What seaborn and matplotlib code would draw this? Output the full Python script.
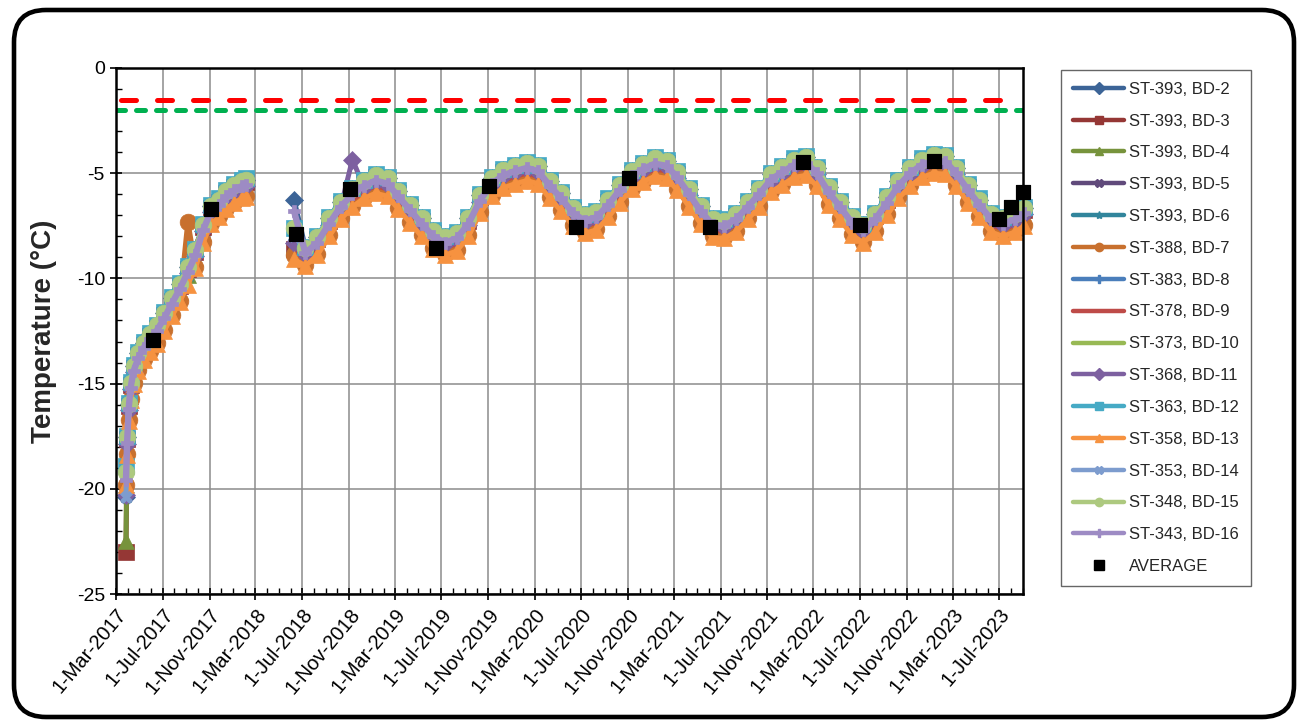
import pandas as pd
import matplotlib
matplotlib.use("Agg")
import matplotlib.pyplot as plt
import matplotlib.dates as mdates
from matplotlib.lines import Line2D
from matplotlib.patches import FancyBboxPatch
from matplotlib.ticker import FuncFormatter, MultipleLocator
import seaborn as sns

# ---- data ----
# first season after installation (band centre, deg C)
dates_2017 = ['2017-03-27', '2017-03-30', '2017-04-03', '2017-04-08', '2017-04-16',
              '2017-04-28', '2017-05-12', '2017-05-28', '2017-06-15', '2017-07-05',
              '2017-07-25', '2017-08-15', '2017-09-05', '2017-09-25', '2017-10-15',
              '2017-11-05', '2017-11-25', '2017-12-15', '2018-01-05', '2018-01-25',
              '2018-02-05']
temp_2017 = [-19.6, -17.8, -16.2, -15.2, -14.4, -13.8, -13.3, -12.9, -12.5, -11.9,
             -11.2, -10.5, -9.7, -8.9, -7.7, -6.8, -6.5, -6.1, -5.8, -5.6, -5.55]

# monthly readings after the restart in June 2018
dates_2018 = list(pd.date_range('2018-06-01', '2023-08-01', freq='MS') + pd.Timedelta(days=9)) \
    + [pd.Timestamp('2023-09-05')]
temp_2018 = [-8.3, -8.8, -8.3, -7.4, -6.6, -6.0, -5.6,
             -5.35, -5.5, -6.1, -6.75, -7.4, -8.0, -8.3, -8.1, -7.4, -6.3, -5.5, -5.1,
             -4.9, -4.75, -4.9, -5.6, -6.2, -6.9, -7.25, -7.1, -6.5, -5.8, -5.15, -4.8,
             -4.55, -4.65, -5.2, -6.0, -6.8, -7.45, -7.5, -7.2, -6.6, -6.0, -5.3, -4.95,
             -4.6, -4.5, -5.0, -5.9, -6.6, -7.35, -7.7, -7.2, -6.4, -5.6, -5.0, -4.6,
             -4.4, -4.45, -5.0, -5.8, -6.5, -7.2, -7.4, -7.2, -6.9]

sensor_labels = ['ST-393, BD-2', 'ST-393, BD-3', 'ST-393, BD-4', 'ST-393, BD-5',
                 'ST-393, BD-6', 'ST-388, BD-7', 'ST-383, BD-8', 'ST-378, BD-9',
                 'ST-373, BD-10', 'ST-368, BD-11', 'ST-363, BD-12', 'ST-358, BD-13',
                 'ST-353, BD-14', 'ST-348, BD-15', 'ST-343, BD-16']
sensor_colors = ['#3C6497', '#953735', '#77933C', '#604A7B', '#31859C', '#C8702E',
                 '#4A7EBB', '#BE4B48', '#98B954', '#7D60A0', '#46AAC5', '#F69240',
                 '#7D9CCE', '#ADC97F', '#9D8BC4']
sensor_markers = ['D', 's', '^', 'X', '*', 'o', 'P', 'None', 'None', 'D', 's', '^',
                  'X', 'o', 'P']
# each sensor sits a little above / below the band centre
sensor_offsets = [0.25, 0.15, -0.15, 0.0, -0.1, -0.55, 0.2, -0.25, 0.0, -0.05, 0.3,
                  -0.6, 0.2, 0.25, 0.0]
first_reading = [-20.4, -23.0, -22.5, -20.4, -20.3, -19.8, -20.2, -20.5, -20.0, -20.3,
                 -18.9, -19.8, -20.4, -19.2, -19.6]
restart_reading = [-6.25, -8.6, -8.4, -8.3, -8.4, -8.9, -8.2, -8.5, -8.3, -8.3,
                   -7.6, -9.1, -8.0, -7.6, -6.8]

spike_sensor = ['ST-388, BD-7', 'ST-348, BD-15', 'ST-368, BD-11']
spike_dates = ['2017-09-05', '2017-06-15', '2018-11-10']
spike_temps = [-7.3, -12.2, -4.35]

avg_dates = ['2017-06-07', '2017-11-05', '2018-06-14', '2018-11-04', '2019-06-17',
             '2019-11-04', '2020-06-18', '2020-11-04', '2021-06-04', '2022-02-01',
             '2022-07-01', '2023-01-10', '2023-07-01', '2023-08-01', '2023-09-01']
avg_temps = [-12.93, -6.68, -7.90, -5.73, -8.55, -5.62, -7.54, -5.22, -7.56, -4.48,
             -7.48, -4.40, -7.20, -6.59, -5.90]

red_limit_dates = ['2017-03-15', '2023-08-05']
red_limit_temps = [-1.5, -1.5]
green_limit_dates = ['2017-03-01', '2023-09-01']
green_limit_temps = [-2.0, -2.0]

# ---- long table ----
rows = []
for i, lab in enumerate(sensor_labels):
    for period, (dts, vals, first) in enumerate([(dates_2017, temp_2017, first_reading[i]),
                                                  (dates_2018, temp_2018, restart_reading[i])]):
        for j, (d, v) in enumerate(zip(dts, vals)):
            t = first if j == 0 else v + sensor_offsets[i]
            rows.append({'sensor': lab, 'period': period, 'date': pd.Timestamp(d), 'temp': t})
df = pd.DataFrame(rows)
for lab, d, v in zip(spike_sensor, spike_dates, spike_temps):
    df.loc[(df.sensor == lab) & (df.date == pd.Timestamp(d)), 'temp'] = v

avg = pd.DataFrame({'date': pd.to_datetime(avg_dates), 'temp': avg_temps})

# ---- plot ----
sns.set_theme(style="white")
plt.rcParams['font.family'] = ['Liberation Sans', 'DejaVu Sans']
plt.rcParams['axes.unicode_minus'] = False

fig = plt.figure(figsize=(12.98, 7.21), dpi=100)
ax = fig.add_axes([0.0894, 0.1761, 0.6987, 0.7296])

msize = {'D': 9, 's': 11, '^': 11, 'X': 9, '*': 12, 'o': 12, 'P': 9, 'None': 0}
for lab, col, mk in zip(sensor_labels, sensor_colors, sensor_markers):
    sub = df[df.sensor == lab]
    lw = 4.6 if lab.endswith('BD-16') else 3.6
    sns.lineplot(data=sub, x='date', y='temp', units='period', estimator=None, sort=False,
                 color=col, marker=mk, markersize=msize[mk], markeredgecolor=col,
                 markeredgewidth=0.5, lw=lw, ax=ax, legend=False, clip_on=False)

sns.lineplot(x=pd.to_datetime(red_limit_dates), y=red_limit_temps, color='#FF0000', lw=3.6,
             linestyle=(0, (3.0, 4.2)), dash_capstyle='round', ax=ax, legend=False)
sns.lineplot(x=pd.to_datetime(green_limit_dates), y=green_limit_temps, color='#00B050', lw=3.6,
             linestyle=(0, (1.8, 2.2)), dash_capstyle='round', ax=ax, legend=False)

sns.scatterplot(data=avg, x='date', y='temp', marker='s', s=115, color='black',
                edgecolor='black', zorder=5, ax=ax, legend=False, clip_on=False)

ax.set_xlim(pd.Timestamp('2017-03-01'), pd.Timestamp('2023-09-01'))
ax.set_ylim(-25, 0)
ax.xaxis.set_major_locator(mdates.MonthLocator(bymonth=[3, 7, 11]))
ax.xaxis.set_minor_locator(mdates.MonthLocator())
ax.xaxis.set_major_formatter(FuncFormatter(
    lambda v, p: f"{mdates.num2date(v).day}-{mdates.num2date(v).strftime('%b-%Y')}"))
ax.yaxis.set_major_locator(MultipleLocator(5))
ax.yaxis.set_minor_locator(MultipleLocator(1))
ax.tick_params(which='both', bottom=True, left=True, colors='black')
ax.tick_params(which='major', direction='inout', length=9, width=1.2, labelsize=14.5)
ax.tick_params(axis='y', which='major', labelsize=14)
ax.tick_params(which='minor', direction='in', length=4, width=1)
for lbl in ax.get_xticklabels():
    lbl.set_rotation(50)
    lbl.set_ha('right')
    lbl.set_rotation_mode('anchor')
ax.grid(True, which='major', color='#8C8C8C', lw=1.1)
for sp in ax.spines.values():
    sp.set_color('black')
    sp.set_linewidth(1.8)
ax.set_xlabel('')
ax.set_ylabel('Temperature (°C)', fontsize=20, fontweight='bold', labelpad=14)

handles = [Line2D([], [], color=c, marker=m, lw=3.2, markersize=6, markeredgecolor=c)
           for c, m in zip(sensor_colors, sensor_markers)]
handles.append(Line2D([], [], color='black', marker='s', ls='None', markersize=7))
leg = fig.legend(handles, sensor_labels + ['AVERAGE'], loc='upper left',
                 bbox_to_anchor=(1061 / 1298, 1 - 70 / 721), bbox_transform=fig.transFigure,
                 frameon=True, fancybox=False, fontsize=12, handlelength=3.1,
                 handletextpad=0.3, labelspacing=1.01, borderpad=0.7, borderaxespad=0)
leg.get_frame().set_edgecolor('#404040')
leg.get_frame().set_linewidth(1.0)

# rounded outer frame
fig.patches.append(FancyBboxPatch((0.14, 0.04), 12.80, 7.07,
                                  boxstyle='round,pad=0,rounding_size=0.32',
                                  transform=fig.dpi_scale_trans, fill=False,
                                  lw=3.3, ec='black'))

fig.savefig('out.png', dpi=100)
